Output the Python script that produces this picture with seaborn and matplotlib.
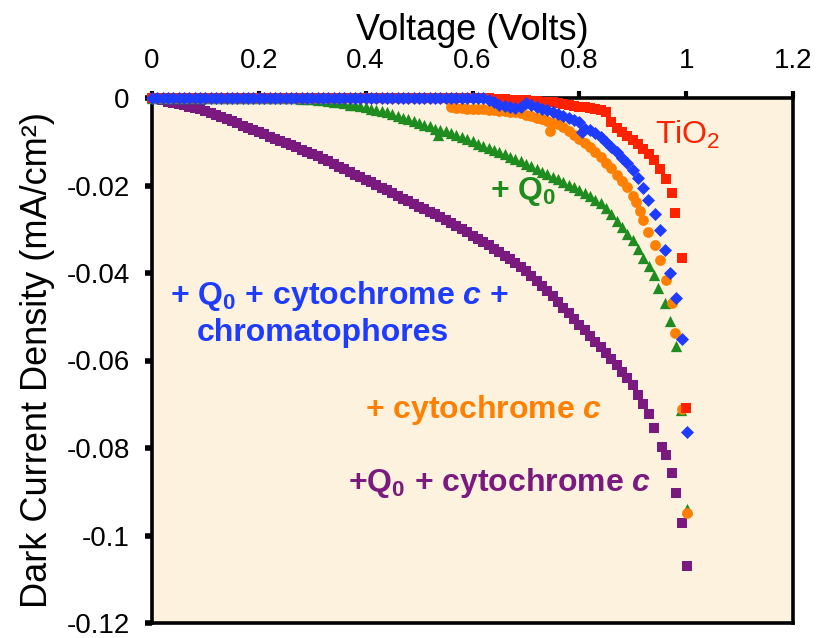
import matplotlib
matplotlib.use("Agg")
import matplotlib.pyplot as plt
import seaborn as sns
import pandas as pd

# ---------------- data (V in Volts, J in mA/cm^2) ----------------
PURPLE_V = [0.00, 0.01, 0.02, 0.03, 0.04, 0.05, 0.06, 0.07, 0.08, 0.09,
            0.10, 0.11, 0.12, 0.13, 0.14, 0.15, 0.16, 0.17, 0.18, 0.19,
            0.20, 0.21, 0.22, 0.23, 0.24, 0.25, 0.26, 0.27, 0.28, 0.29,
            0.30, 0.31, 0.32, 0.33, 0.34, 0.35, 0.36, 0.37, 0.38, 0.39,
            0.40, 0.41, 0.42, 0.43, 0.44, 0.45, 0.46, 0.47, 0.48, 0.49,
            0.50, 0.51, 0.52, 0.53, 0.54, 0.55, 0.56, 0.57, 0.58, 0.59,
            0.60, 0.61, 0.62, 0.63, 0.64, 0.65, 0.66, 0.67, 0.68, 0.69,
            0.70, 0.71, 0.72, 0.73, 0.74, 0.75, 0.76, 0.77, 0.78, 0.79,
            0.80, 0.81, 0.82, 0.83, 0.84, 0.85, 0.86, 0.87, 0.88, 0.89,
            0.90, 0.91, 0.92, 0.93, 0.94, 0.954, 0.963, 0.973, 0.981, 0.992, 1.001]
PURPLE_J = [0.0, -0.0002, -0.0005, -0.0008, -0.0011, -0.0014, -0.0017, -0.0020, -0.0023, -0.0026,
            -0.0029, -0.0034, -0.0039, -0.0043, -0.0048, -0.0053, -0.0058, -0.0063, -0.0068, -0.0073,
            -0.0078, -0.0083, -0.0088, -0.0093, -0.0098, -0.0103, -0.0108, -0.0113, -0.0118, -0.0123,
            -0.0128, -0.0133, -0.0139, -0.0145, -0.0151, -0.0157, -0.0163, -0.0169, -0.0175, -0.0181,
            -0.0187, -0.0193, -0.0199, -0.0205, -0.0211, -0.0218, -0.0224, -0.0230, -0.0236, -0.0242,
            -0.0248, -0.0254, -0.0260, -0.0266, -0.0272, -0.0279, -0.0286, -0.0293, -0.0300, -0.0307,
            -0.0315, -0.0322, -0.0330, -0.0337, -0.0345, -0.0353, -0.0361, -0.0369, -0.0378, -0.0386,
            -0.0395, -0.0406, -0.0418, -0.0429, -0.0441, -0.0453, -0.0466, -0.0479, -0.0492, -0.0505,
            -0.0518, -0.0531, -0.0544, -0.0557, -0.0570, -0.0583, -0.0597, -0.0611, -0.0626, -0.0641,
            -0.0657, -0.0678, -0.0700, -0.0722, -0.0755, -0.0797, -0.0817, -0.0857, -0.0903, -0.0971, -0.1069]

GREEN_V = [0.00, 0.01, 0.02, 0.03, 0.04, 0.05, 0.06, 0.07, 0.08, 0.09,
           0.10, 0.11, 0.12, 0.13, 0.14, 0.15, 0.16, 0.17, 0.18, 0.19,
           0.20, 0.21, 0.22, 0.23, 0.24, 0.25, 0.26, 0.27, 0.28, 0.29,
           0.30, 0.31, 0.32, 0.33, 0.34, 0.35, 0.36, 0.37, 0.38, 0.39,
           0.40, 0.41, 0.42, 0.43, 0.44, 0.45, 0.46, 0.47, 0.48, 0.49,
           0.50, 0.51, 0.52, 0.53, 0.535, 0.54, 0.55, 0.56, 0.57, 0.58, 0.59,
           0.60, 0.61, 0.62, 0.63, 0.64, 0.65, 0.66, 0.67, 0.68, 0.69,
           0.70, 0.71, 0.72, 0.73, 0.74, 0.75, 0.76, 0.77, 0.78, 0.79,
           0.80, 0.81, 0.82, 0.83, 0.84, 0.85, 0.86, 0.87, 0.88, 0.89,
           0.90, 0.91, 0.92, 0.93, 0.94, 0.948, 0.960, 0.970, 0.981, 0.990, 1.001]
GREEN_J = [0.0, 0.0, 0.0, 0.0, 0.0, 0.0, 0.0, 0.0, 0.0, 0.0,
           0.0, 0.0, 0.0, 0.0, 0.0, 0.0, 0.0, 0.0, 0.0, 0.0,
           0.0, 0.0, 0.0, 0.0, 0.0, 0.0, -0.0001, -0.0001, -0.0002, -0.0002,
           -0.0003, -0.0004, -0.0005, -0.0006, -0.0008, -0.0010, -0.0012, -0.0015, -0.0017, -0.0019,
           -0.0021, -0.0024, -0.0027, -0.0030, -0.0033, -0.0037, -0.0041, -0.0045, -0.0049, -0.0053,
           -0.0057, -0.0061, -0.0065, -0.0070, -0.0084, -0.0073, -0.0076, -0.0080, -0.0084, -0.0089, -0.0094,
           -0.0099, -0.0104, -0.0109, -0.0114, -0.0119, -0.0124, -0.0129, -0.0134, -0.0139, -0.0144,
           -0.0150, -0.0156, -0.0162, -0.0168, -0.0174, -0.0180, -0.0186, -0.0192, -0.0198, -0.0204,
           -0.0210, -0.0217, -0.0224, -0.0232, -0.0241, -0.0252, -0.0266, -0.0280, -0.0295, -0.0310,
           -0.0325, -0.0345, -0.0365, -0.0385, -0.0405, -0.0434, -0.0468, -0.0510, -0.0567, -0.0712, -0.0940]

ORANGE_V = [0.00, 0.01, 0.02, 0.03, 0.04, 0.05, 0.06, 0.07, 0.08, 0.09,
            0.10, 0.11, 0.12, 0.13, 0.14, 0.15, 0.16, 0.17, 0.18, 0.19,
            0.20, 0.21, 0.22, 0.23, 0.24, 0.25, 0.26, 0.27, 0.28, 0.29,
            0.30, 0.31, 0.32, 0.33, 0.34, 0.35, 0.36, 0.37, 0.38, 0.39,
            0.40, 0.41, 0.42, 0.43, 0.44, 0.45, 0.46, 0.47, 0.48, 0.49,
            0.50, 0.51, 0.52, 0.53, 0.54, 0.55, 0.56, 0.57, 0.58, 0.59,
            0.60, 0.61, 0.62, 0.63, 0.64, 0.65, 0.66, 0.67, 0.68, 0.69,
            0.70, 0.71, 0.72, 0.73, 0.74, 0.745, 0.75, 0.76, 0.77, 0.78, 0.79,
            0.80, 0.81, 0.82, 0.83, 0.84, 0.85, 0.86, 0.87, 0.88, 0.89,
            0.90, 0.907, 0.914, 0.920, 0.929, 0.942, 0.951, 0.962, 0.973, 0.979, 0.992, 1.001]
ORANGE_J = [0.0, 0.0, 0.0, 0.0, 0.0, 0.0, 0.0, 0.0, 0.0, 0.0,
            0.0, 0.0, 0.0, 0.0, 0.0, 0.0, 0.0, 0.0, 0.0, 0.0,
            0.0, 0.0, 0.0, 0.0, 0.0, 0.0, 0.0, 0.0, 0.0, 0.0,
            0.0, 0.0, 0.0, 0.0, 0.0, 0.0, 0.0, 0.0, 0.0, 0.0,
            0.0, 0.0, 0.0, 0.0, 0.0, 0.0, 0.0, 0.0, 0.0, 0.0,
            0.0, 0.0, 0.0, 0.0, 0.0, 0.0, -0.0020, -0.0022, -0.0023, -0.0024,
            -0.0025, -0.0026, -0.0026, -0.0027, -0.0028, -0.0029, -0.0030, -0.0031, -0.0033, -0.0035,
            -0.0038, -0.0041, -0.0045, -0.0049, -0.0053, -0.0076, -0.0056, -0.0060, -0.0066, -0.0076, -0.0085,
            -0.0094, -0.0103, -0.0113, -0.0124, -0.0135, -0.0148, -0.0161, -0.0175, -0.0189, -0.0204,
            -0.0223, -0.0238, -0.0258, -0.0279, -0.0306, -0.0336, -0.0370, -0.0415, -0.0468, -0.0536, -0.0710, -0.0948]

RED_V = [0.00, 0.01, 0.02, 0.03, 0.04, 0.05, 0.06, 0.07, 0.08, 0.09,
         0.10, 0.11, 0.12, 0.13, 0.14, 0.15, 0.16, 0.17, 0.18, 0.19,
         0.20, 0.21, 0.22, 0.23, 0.24, 0.25, 0.26, 0.27, 0.28, 0.29,
         0.30, 0.31, 0.32, 0.33, 0.34, 0.35, 0.36, 0.37, 0.38, 0.39,
         0.40, 0.41, 0.42, 0.43, 0.44, 0.45, 0.46, 0.47, 0.48, 0.49,
         0.50, 0.51, 0.52, 0.53, 0.54, 0.55, 0.56, 0.57, 0.58, 0.59,
         0.60, 0.61, 0.62, 0.63, 0.64, 0.65, 0.66, 0.67, 0.68, 0.69,
         0.70, 0.71, 0.72, 0.73, 0.74, 0.75, 0.76, 0.77, 0.78, 0.79,
         0.80, 0.81, 0.82, 0.83, 0.84, 0.85, 0.86, 0.87, 0.88, 0.89,
         0.90, 0.91, 0.92, 0.93, 0.94, 0.951, 0.963, 0.974, 0.980, 0.993, 1.000]
RED_J = [0.0, 0.0, 0.0, 0.0, 0.0, 0.0, 0.0, 0.0, 0.0, 0.0,
         0.0, 0.0, 0.0, 0.0, 0.0, 0.0, 0.0, 0.0, 0.0, 0.0,
         0.0, 0.0, 0.0, 0.0, 0.0, 0.0, 0.0, 0.0, 0.0, 0.0,
         0.0, 0.0, 0.0, 0.0, 0.0, 0.0, 0.0, 0.0, 0.0, 0.0,
         0.0, 0.0, 0.0, 0.0, 0.0, 0.0, 0.0, 0.0, 0.0, 0.0,
         0.0, 0.0, 0.0, 0.0, 0.0, 0.0, 0.0, 0.0, 0.0, 0.0,
         0.0, 0.0, 0.0, -0.0001, -0.0002, -0.0003, -0.0003, -0.0004, -0.0004, -0.0005,
         -0.0005, -0.0006, -0.0007, -0.0008, -0.0009, -0.0010, -0.0012, -0.0014, -0.0016, -0.0018,
         -0.0020, -0.0021, -0.0023, -0.0025, -0.0027, -0.0032, -0.0055, -0.0068, -0.0078, -0.0086,
         -0.0096, -0.0105, -0.0116, -0.0128, -0.0142, -0.0163, -0.0186, -0.0217, -0.0263, -0.0366, -0.0709]

BLUE_V = [0.00, 0.01, 0.02, 0.03, 0.04, 0.05, 0.06, 0.07, 0.08, 0.09,
          0.10, 0.11, 0.12, 0.13, 0.14, 0.15, 0.16, 0.17, 0.18, 0.19,
          0.20, 0.21, 0.22, 0.23, 0.24, 0.25, 0.26, 0.27, 0.28, 0.29,
          0.30, 0.31, 0.32, 0.33, 0.34, 0.35, 0.36, 0.37, 0.38, 0.39,
          0.40, 0.41, 0.42, 0.43, 0.44, 0.45, 0.46, 0.47, 0.48, 0.49,
          0.50, 0.51, 0.52, 0.53, 0.54, 0.55, 0.56, 0.57, 0.58, 0.59,
          0.60, 0.61, 0.62, 0.63, 0.64, 0.65, 0.66, 0.67, 0.68, 0.69,
          0.70, 0.71, 0.72, 0.73, 0.74, 0.75, 0.76, 0.77, 0.78, 0.79,
          0.80, 0.805, 0.81, 0.82, 0.83, 0.84, 0.85, 0.86, 0.87, 0.88, 0.89,
          0.90, 0.91, 0.92, 0.929, 0.942, 0.951, 0.960, 0.970, 0.981, 0.992, 1.001]
BLUE_J = [0.0, 0.0, 0.0, 0.0, 0.0, 0.0, 0.0, 0.0, 0.0, 0.0,
          0.0, 0.0, 0.0, 0.0, 0.0, 0.0, 0.0, 0.0, 0.0, 0.0,
          0.0, 0.0, 0.0, 0.0, 0.0, 0.0, 0.0, 0.0, 0.0, 0.0,
          0.0, 0.0, 0.0, 0.0, 0.0, 0.0, 0.0, 0.0, 0.0, 0.0,
          0.0, 0.0, 0.0, 0.0, 0.0, 0.0, 0.0, 0.0, 0.0, 0.0,
          0.0, 0.0, 0.0, 0.0, 0.0, 0.0, 0.0, 0.0, 0.0, 0.0,
          0.0, 0.0, 0.0, -0.0005, -0.0010, -0.0015, -0.0018, -0.0020, -0.0022, -0.0020,
          -0.0012, -0.0015, -0.0020, -0.0024, -0.0028, -0.0032, -0.0036, -0.0040, -0.0045, -0.0050,
          -0.0055, -0.0078, -0.0070, -0.0073, -0.0079, -0.0089, -0.0100, -0.0112, -0.0124, -0.0136, -0.0149,
          -0.0165, -0.0182, -0.0205, -0.0234, -0.0264, -0.0302, -0.0347, -0.0400, -0.0457, -0.0551, -0.0763]

X_TICKS = [0, 0.2, 0.4, 0.6, 0.8, 1.0, 1.2]
X_TICK_LABELS = ["0", "0.2", "0.4", "0.6", "0.8", "1", "1.2"]
Y_TICKS = [0, -0.02, -0.04, -0.06, -0.08, -0.10, -0.12]
Y_TICK_LABELS = ["0", "-0.02", "-0.04", "-0.06", "-0.08", "-0.1", "-0.12"]

COLORS = {"purple": "#7A1A7E", "green": "#1E8C1E", "orange": "#FF8000",
          "red": "#FF2200", "blue": "#1E3CFF"}

# ---------------- style ----------------
sns.set_theme(style="white")
plt.rcParams["font.family"] = ["Liberation Sans", "DejaVu Sans"]
plt.rcParams["mathtext.fontset"] = "custom"
plt.rcParams["mathtext.rm"] = "Liberation Sans:bold"
plt.rcParams["mathtext.it"] = "Liberation Sans:bold:italic"
plt.rcParams["mathtext.bf"] = "Liberation Sans:bold"
plt.rcParams["axes.unicode_minus"] = False

fig = plt.figure(figsize=(8.16, 6.38), dpi=100)
fig.patch.set_facecolor("white")
# axes box: left 152px, right 793px, top 98px, bottom 623px
ax = fig.add_axes([152 / 816, 1 - 623 / 638, (793 - 152) / 816, (623 - 98) / 638])
ax.set_facecolor("#FCF2DE")

series = [
    (PURPLE_V, PURPLE_J, "s", COLORS["purple"], 58),
    (GREEN_V, GREEN_J, "^", COLORS["green"], 66),
    (ORANGE_V, ORANGE_J, "o", COLORS["orange"], 60),
    (RED_V, RED_J, "s", COLORS["red"], 58),
    (BLUE_V, BLUE_J, "D", COLORS["blue"], 44),
]
for i, (v, j, m, c, s) in enumerate(series):
    df = pd.DataFrame({"V": v, "J": j})
    sns.scatterplot(data=df, x="V", y="J", marker=m, color=c, s=s,
                    linewidth=0, ax=ax, clip_on=False, zorder=3 + i)

ax.set_xlim(0, 1.2)
ax.set_ylim(-0.12, 0)
ax.xaxis.tick_top()
ax.xaxis.set_label_position("top")
ax.set_xticks(X_TICKS)
ax.set_xticklabels(X_TICK_LABELS)
ax.set_yticks(Y_TICKS)
ax.set_yticklabels(Y_TICK_LABELS)
ax.tick_params(axis="x", which="both", direction="out", length=5, width=3,
               pad=12, labelsize=20, top=True, bottom=False, colors="black")
ax.tick_params(axis="y", direction="out", length=5, width=4, pad=11,
               labelsize=20, left=True, colors="black")
for sp in ax.spines.values():
    sp.set_visible(True)
    sp.set_color("black")
    sp.set_linewidth(2.6)

ax.set_xlabel("Voltage (Volts)", fontsize=26, labelpad=6, color="black")
ax.set_ylabel("Dark Current Density (mA/cm²)", fontsize=26, labelpad=8, color="black")

# ---------------- annotations ----------------
ax.text(0.942, -0.0106, r"TiO$_\mathdefault{2}$", color=COLORS["red"], fontsize=23,
        ha="left", va="baseline")
ax.text(0.633, -0.0230, r"+ Q$_0$", color=COLORS["green"], fontsize=23,
        fontweight="bold", ha="left", va="baseline")
ax.text(0.034, -0.0471, r"+ Q$_0$ + cytochrome $\mathit{c}$ +", color=COLORS["blue"],
        fontsize=23, fontweight="bold", ha="left", va="baseline")
ax.text(0.084, -0.0555, "chromatophores", color=COLORS["blue"], fontsize=23,
        fontweight="bold", ha="left", va="baseline")
ax.text(0.399, -0.0731, r"+ cytochrome $\mathit{c}$", color=COLORS["orange"],
        fontsize=23, fontweight="bold", ha="left", va="baseline")
ax.text(0.367, -0.0899, r"+Q$_0$ + cytochrome $\mathit{c}$", color=COLORS["purple"],
        fontsize=23, fontweight="bold", ha="left", va="baseline")

fig.savefig("out.png", dpi=100, facecolor="white")
